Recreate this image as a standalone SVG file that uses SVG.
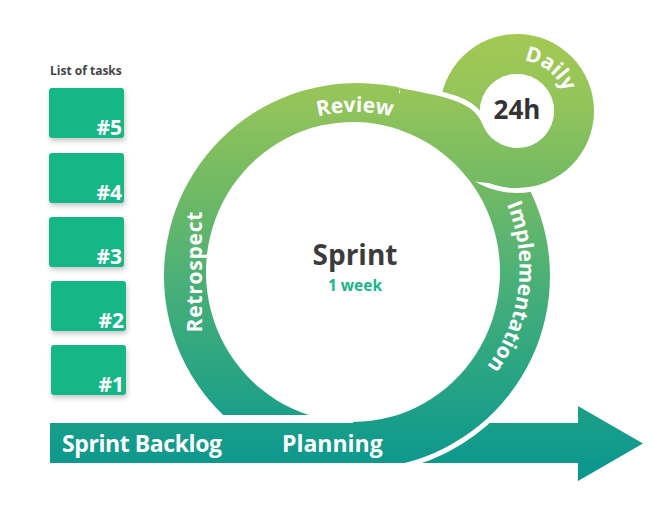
<svg xmlns="http://www.w3.org/2000/svg" width="654" height="515" viewBox="0 0 654 515">
<defs>
<linearGradient id="g" gradientUnits="userSpaceOnUse" x1="0" y1="34" x2="0" y2="481">
<stop offset="0" stop-color="#a3c954"/>
<stop offset="0.15" stop-color="#93c45a"/>
<stop offset="0.34" stop-color="#72ba64"/>
<stop offset="0.53" stop-color="#4eb176"/>
<stop offset="0.75" stop-color="#2ba583"/>
<stop offset="0.88" stop-color="#179d8a"/>
<stop offset="1" stop-color="#0a968f"/>
</linearGradient>
<filter id="sh" x="-20%" y="-20%" width="140%" height="150%">
<feDropShadow dx="1" dy="3" stdDeviation="2.5" flood-color="#000" flood-opacity="0.22"/>
</filter>
<path id="pDaily" d="M 499.6 63.1 A 51 51 0 0 1 567.7 116.3"/>
<path id="pReview" d="M 251.5 149.7 A 161 161 0 0 1 458.5 149.7"/>
<path id="pImpl" d="M 481 162.3 A 164.5 164.5 0 0 1 451.7 401.1"/>
</defs>
<style>
.f{fill:url(#g)}
.gap{fill:none;stroke:#fff;stroke-width:10}
.box{fill:#15b787;filter:url(#sh)}
.t{font-family:"Open Sans","Liberation Sans",sans-serif;font-weight:700}
.w{fill:#fff}
.num{fill:#fff;font-size:21px;text-anchor:end}
.lbl{fill:#fff;font-size:21px}
</style>

<g id="tasks">
<text class="t" x="50" y="75" font-size="12" fill="#444">List of tasks</text>
<g id="task5"><rect class="box" x="49" y="88" width="75" height="50" rx="3"/><text class="t num" x="122" y="135">#5</text></g>
<g id="task4"><rect class="box" x="49" y="153" width="75" height="50" rx="3"/><text class="t num" x="122" y="200">#4</text></g>
<g id="task3"><rect class="box" x="49" y="217" width="75" height="50" rx="3"/><text class="t num" x="122" y="264">#3</text></g>
<g id="task2"><rect class="box" x="51" y="281" width="75" height="50" rx="3"/><text class="t num" x="124" y="328">#2</text></g>
<g id="task1"><rect class="box" x="51" y="345" width="75" height="50" rx="3"/><text class="t num" x="124" y="392">#1</text></g>
</g>

<g id="connectors">
<g id="backlog-arrow">
<path class="f" d="M 50 423 H 578 V 406 L 643 443.5 L 578 481 V 463 H 50 Z"/>
<path class="gap" d="M 509.1 394.8 A 193 193 0 0 1 397.1 464.8"/>
</g>
<g id="sprint-ring">
<path class="f" d="M 223.1 415 A 193 193 0 1 1 404.7 463 L 353 463 L 353 422 A 147 150 0 1 0 308.6 415 Z"/>
</g>
<g id="daily-loop">
<circle class="gap" cx="517" cy="111" r="77"/>
<path class="f" fill-rule="evenodd" d="M 440 111 A 77 77 0 1 0 594 111 A 77 77 0 1 0 440 111 Z M 480 111 A 37 37 0 1 0 554 111 A 37 37 0 1 0 480 111 Z"/>
<circle cx="517" cy="111" r="37" fill="#fff"/>
<path class="gap" d="M 400 88 C 440 96 473.6 100.2 482.2 123.7"/>
<path class="f" d="M 400 88 C 440 96 473.6 100.2 482.2 123.7 A 37 37 0 0 0 517 148 L 517 188 A 77 77 0 0 1 493.2 184.2 C 484.6 181.4 472 183.6 467 177.3 A 147 150 0 0 0 400 129.9 Z"/>
</g>
</g>

<g id="labels">
<text class="t w" x="62" y="452" font-size="23" textLength="160">Sprint Backlog</text>
<text class="t w" x="282" y="452" font-size="23">Planning</text>
<text class="t lbl" transform="translate(202,272) rotate(-90)" text-anchor="middle" font-size="22.5" textLength="121">Retrospect</text>
<text class="t lbl"><textPath href="#pReview" startOffset="50%" text-anchor="middle">Review</textPath></text>
<text class="t lbl"><textPath href="#pImpl" startOffset="50%" text-anchor="middle">Implementation</textPath></text>
<text class="t lbl"><textPath href="#pDaily" startOffset="50%" text-anchor="middle">Daily</textPath></text>
</g>

<g id="sprint">
<text class="t" x="355" y="265" font-size="28" fill="#3c3c3c" text-anchor="middle">Sprint</text>
<text class="t" x="355" y="291" font-size="15.5" fill="#19b488" text-anchor="middle">1 week</text>
</g>
<g id="daily">
<text class="t" x="517" y="119" font-size="26" fill="#333" text-anchor="middle">24h</text>
</g>
</svg>
